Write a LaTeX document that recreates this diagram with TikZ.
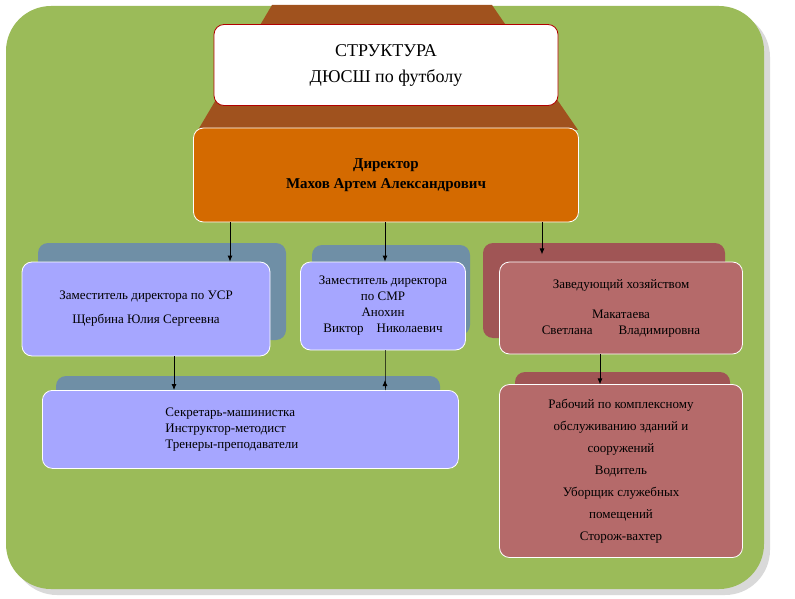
\documentclass[tikz,border=0pt]{standalone}
\usepackage{fontspec}
\setmainfont{Liberation Serif}
\usetikzlibrary{positioning,arrows.meta}
\definecolor{bggreen}{HTML}{9BBB59}
\definecolor{roof}{HTML}{A0521E}
\definecolor{dirorange}{HTML}{D46A00}
\definecolor{lav}{HTML}{A6A6FF}
\definecolor{lavtop}{HTML}{6F8FA6}
\definecolor{rose}{HTML}{B56A6A}
\definecolor{rosetop}{HTML}{A05555}
\tikzset{
  box/.style={draw=white,line width=0.8pt,rounded corners=10pt,align=center,
    font=\fontsize{13}{16}\selectfont,inner sep=2pt},
  bevel/.style={rounded corners=10pt},
  arr/.style={-{Latex[length=6pt,width=5pt]},thick},
}
\begin{document}
\begin{tikzpicture}[x=1pt,y=-1pt]
  \useasboundingbox (0,0) rectangle (795,599);
  % background
  \fill[gray!30,rounded corners=45pt] (12,12) rectangle (770,595);
  \fill[bggreen,rounded corners=45pt] (6,6) rectangle (764,589);
  % roof behind title
  \fill[roof] (272,5) -- (492,5) -- (578,130) -- (198,130) -- cycle;
  \node[box,draw=red!70!black,fill=white,minimum width=344pt,minimum height=81pt,
    font=\fontsize{18}{26}\selectfont] (title) at (386,65) {СТРУКТУРА\\ДЮСШ по футболу};
  \node[box,fill=dirorange,minimum width=385pt,minimum height=94pt,
    font=\bfseries\fontsize{15}{20}\selectfont] (dir) at (386,175) {Директор\\Махов Артем Александрович};
  % bevels
  \fill[lavtop,bevel] (38,243) rectangle (286,340);
  \fill[lavtop,bevel] (312,245) rectangle (470,335);
  \fill[rosetop,bevel] (483,243) rectangle (725,338);
  \fill[lavtop,bevel] (56,376) rectangle (440,455);
  \fill[rosetop,bevel] (515,372) rectangle (730,540);
  % boxes
  \node[box,fill=lav,minimum width=248pt,minimum height=94pt] (usr) at (146,309)
    {Заместитель директора по УСР\\[8pt]Щербина Юлия Сергеевна};
  \node[box,fill=lav,minimum width=165pt,minimum height=88pt] (smr) at (383,306)
    {Заместитель директора\\по СМР\\Анохин\\Виктор\quad Николаевич};
  \node[box,fill=rose,minimum width=243pt,minimum height=92pt] (hoz) at (621,308)
    {Заведующий хозяйством\\[14pt]Макатаева\\Светлана\qquad Владимировна};
  \node[box,fill=lav,minimum width=416pt,minimum height=78pt,anchor=north west,
    align=left,text width=170pt] (staff) at (42,390)
    {Секретарь-машинистка\\Инструктор-методист\\Тренеры-преподаватели};
  \node[box,fill=rose,minimum width=243pt,minimum height=173pt,
    font=\fontsize{13}{22}\selectfont] (work) at (621,471)
    {Рабочий по комплексному\\обслуживанию зданий и\\сооружений\\Водитель\\Уборщик служебных\\помещений\\Сторож-вахтер};
  % arrows
  \draw[arr] (dir.south -| 230,0) -- (usr.north -| 230,0);
  \draw[arr] (dir.south -| 385,0) -- (smr.north -| 385,0);
  \draw[arr] (dir.south -| 542,0) -- ++(0,32);
  \draw[arr] (usr.south -| 174,0) -- (staff.north -| 174,0);
  \draw[arr] (smr.south -| 385,0) -- (staff.north -| 385,0) -- ++(0,-10);
  \draw[arr] (hoz.south -| 600,0) -- ++(0,30);
\end{tikzpicture}
\end{document}
